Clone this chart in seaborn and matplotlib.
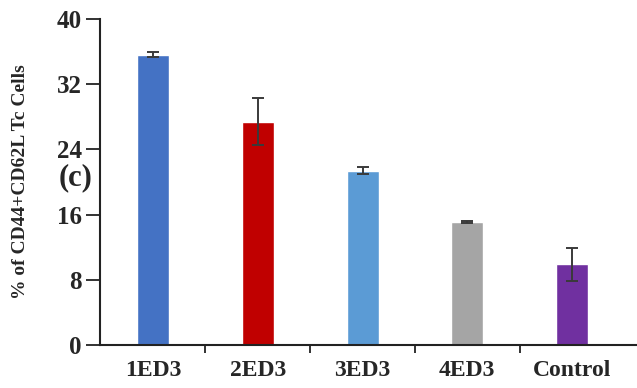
import matplotlib
matplotlib.use("Agg")
import matplotlib.pyplot as plt
import seaborn as sns
import pandas as pd

groups = ["1ED3", "2ED3", "3ED3", "4ED3", "Control"]
means = [35.6, 27.4, 21.4, 15.1, 9.9]
errors = [0.3, 2.9, 0.4, 0.15, 2.0]
colors = ["#4472C4", "#C00000", "#5B9BD5", "#A5A5A5", "#7030A0"]
yticks = [0, 8, 16, 24, 32, 40]

sns.set_theme(style="white")
plt.rcParams["font.family"] = ["Liberation Serif", "DejaVu Serif"]
plt.rcParams["font.weight"] = "bold"

df = pd.DataFrame({"group": groups, "value": means})

fig = plt.figure(figsize=(6.37, 3.88), dpi=100)
ax = fig.add_axes([0.157, 0.111, 0.843, 0.840])

sns.barplot(data=df, x="group", y="value", hue="group", palette=colors,
            width=0.305, legend=False, ax=ax, errorbar=None, saturation=1)
ax.errorbar(range(len(groups)), means, yerr=errors, fmt="none",
            ecolor="#3a3a3a", elinewidth=1.4, capsize=4, capthick=1.4)

ax.set_ylim(0, 40)
ax.set_xlim(-0.506, 4.62)
ax.set_yticks(yticks)
ax.set_yticklabels([str(t) for t in yticks], fontsize=18, fontweight="bold")
ax.set_xticks(range(len(groups)))
ax.set_xticklabels(groups, fontsize=17, fontweight="bold")
ax.tick_params(axis="x", which="major", length=0, pad=11)
ax.set_xticks([0.5, 1.5, 2.5, 3.5], minor=True)
ax.tick_params(axis="x", which="minor", length=6, width=1.3, color="#222222",
               direction="out", bottom=True)
ax.tick_params(axis="y", length=10, width=1.3, color="#222222", direction="out",
               left=True, pad=3)

ax.set_xlabel("")
ax.set_ylabel("% of CD44+CD62L Tc Cells", fontsize=14, fontweight="bold",
              labelpad=20)

for side in ["top", "right"]:
    ax.spines[side].set_visible(False)
for side in ["left", "bottom"]:
    ax.spines[side].set_color("#222222")
    ax.spines[side].set_linewidth(1.5)

fig.text(0.092, 0.542, "(c)", fontsize=22, fontweight="bold", ha="left",
         va="center")

fig.savefig("out.png", dpi=100)
